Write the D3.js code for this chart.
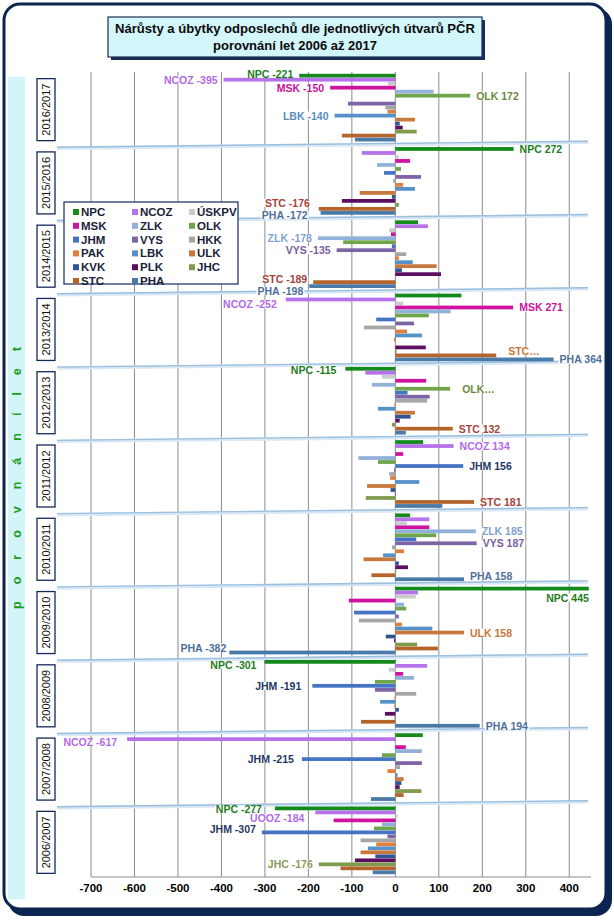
<!DOCTYPE html>
<html>
<head>
<meta charset="utf-8">
<script src="https://cdn.jsdelivr.net/npm/d3@7"></script>
<style>
  body { margin: 0; background: #fff; }
  svg { display: block; }
  text { font-family: "Liberation Sans", Arial, sans-serif; }
</style>
</head>
<body>
<svg id="chart" width="614" height="920" viewBox="0 0 614 920"></svg>
<script>
// categories (top to bottom) and series (order inside each group)
const periods = ["2016/2017", "2015/2016", "2014/2015", "2013/2014", "2012/2013", "2011/2012",
                 "2010/2011", "2009/2010", "2008/2009", "2007/2008", "2006/2007"];
const series = ["NPC", "NCOZ", "ÚSKPV", "MSK", "ZLK", "OLK", "JHM", "VYS", "HKK",
                "PAK", "LBK", "ULK", "KVK", "PLK", "JHC", "STC", "PHA"];

// values, one array per period, in series order
const v2016_2017 = [-221, -395, -17, -150, 88, 172, 0, -109, -23, -18, -140, 45, 10, 17, 49, -123, -93];
const v2015_2016 = [272, -77, 8, 34, -42, 13, -26, 59, -5, 18, 45, -82, -8, -123, 8, -176, -172];
const v2014_2015 = [52, 75, -14, -10, -178, -120, -8, -135, 25, 8, 40, 95, 15, 105, 0, -189, -198];
const v2013_2014 = [152, -252, 18, 271, 127, 77, -44, 43, -72, 27, 61, -3, 0, 70, 3, 232, 364];
const v2012_2013 = [-115, -69, -31, 71, -54, 126, 28, 79, 73, -2, -40, 45, 35, 10, -8, 132, 24];
const v2011_2012 = [64, 134, 0, 18, -85, -40, 156, -3, -14, -12, 55, -65, -11, -1, -68, 181, 108];
const v2010_2011 = [34, 78, 27, 78, 185, 94, 48, 187, -8, 20, -28, -73, 8, 29, 2, -55, 158];
const v2009_2010 = [445, 52, 47, -107, 20, 25, -95, 8, -84, 15, 85, 158, -22, -3, 50, 98, -382];
const v2008_2009 = [-301, 73, -15, 18, 43, -47, -191, -47, 48, -2, -35, -2, 8, -24, -2, -79, 194];
const v2007_2008 = [63, -617, 2, 24, 61, -31, -215, 61, 11, -18, 5, 19, 14, 10, 60, 19, -56];
const v2006_2007 = [-277, -184, 5, -142, -31, -49, -307, -18, -80, -44, -63, -80, -46, -93, -176, -126, -52];
const values = [v2016_2017, v2015_2016, v2014_2015, v2013_2014, v2012_2013, v2011_2012,
                v2010_2011, v2009_2010, v2008_2009, v2007_2008, v2006_2007];

const tickValues = [-700, -600, -500, -400, -300, -200, -100, 0, 100, 200, 300, 400];

// which bars carry a data label (period, series, optional text)
const labelled = [
  ["2016/2017", "NPC"], ["2016/2017", "NCOZ"], ["2016/2017", "MSK"], ["2016/2017", "OLK"], ["2016/2017", "LBK"],
  ["2015/2016", "NPC"], ["2015/2016", "STC"], ["2015/2016", "PHA"],
  ["2014/2015", "ZLK"], ["2014/2015", "VYS"], ["2014/2015", "STC"], ["2014/2015", "PHA"],
  ["2013/2014", "NCOZ"], ["2013/2014", "MSK"], ["2013/2014", "STC", "STC…"], ["2013/2014", "PHA"],
  ["2012/2013", "NPC"], ["2012/2013", "OLK", "OLK…"], ["2012/2013", "STC"],
  ["2011/2012", "NCOZ"], ["2011/2012", "JHM"], ["2011/2012", "STC"],
  ["2010/2011", "ZLK"], ["2010/2011", "VYS"], ["2010/2011", "PHA"],
  ["2009/2010", "NPC"], ["2009/2010", "ULK"], ["2009/2010", "PHA"],
  ["2008/2009", "NPC"], ["2008/2009", "JHM"], ["2008/2009", "PHA"],
  ["2007/2008", "NCOZ"], ["2007/2008", "JHM"],
  ["2006/2007", "NPC"], ["2006/2007", "NCOZ", "ÚOOZ -184"], ["2006/2007", "JHM"], ["2006/2007", "JHC"]
];

// styling
const color = d3.scaleOrdinal().domain(series).range([
  "#138a1c", "#b572ea", "#cbcbcb", "#cf129f", "#91b1d9", "#6fa54c", "#4674c4", "#7d64a5", "#a6a6a6",
  "#e37f3c", "#5692c8", "#c9783b", "#2f5597", "#5c0f60", "#7f9b4d", "#b5652c", "#4a7aa8"]);
const labelColor = {
  NPC: "#1d7d1d", NCOZ: "#b36ae6", MSK: "#cc1199", OLK: "#6b8a3c", LBK: "#5b8dc0", STC: "#a4433a",
  PHA: "#4e6f98", ZLK: "#7f9fce", VYS: "#7a5ea0", JHM: "#1f3864", ULK: "#c8773a", JHC: "#8a9a58"
};
// small label nudges, keyed period|series
const nudge = {
  "2016/2017|NPC": {dy: -2},
  "2015/2016|STC": {dy: -6, dx: -3}, "2015/2016|PHA": {dy: 2, dx: -7},
  "2014/2015|STC": {dy: -3}, "2014/2015|PHA": {dy: 5},
  "2013/2014|NCOZ": {dy: 5, dx: -3}, "2013/2014|STC": {dy: -4, dx: 6, color: "#c8773a"},
  "2012/2013|NPC": {dy: 1, dx: -3}, "2012/2013|OLK": {dx: 6},
  "2010/2011|PHA": {dy: -3},
  "2009/2010|NPC": {dy: 9, inside: true}, "2009/2010|PHA": {dy: -5, dx: 3},
  "2008/2009|NPC": {dy: 3, dx: -2}, "2008/2009|JHM": {dx: -5},
  "2007/2008|NCOZ": {dy: 3, dx: -4}, "2007/2008|JHM": {dx: -2},
  "2006/2007|NPC": {dy: 1, dx: -7}, "2006/2007|NCOZ": {dy: 6, dx: -5}, "2006/2007|JHM": {dy: -3}
};

const svg = d3.select("#chart");

// outer frame with shadow
svg.append("rect").attr("x", 8).attr("y", 8).attr("width", 604).attr("height", 908)
  .attr("rx", 16).attr("fill", "#0c2450");
svg.append("rect").attr("x", 4).attr("y", 4).attr("width", 602).attr("height", 905)
  .attr("rx", 16).attr("fill", "#fff").attr("stroke", "#0c2450").attr("stroke-width", 3);

// title
svg.append("rect").attr("x", 111).attr("y", 20).attr("width", 374).attr("height", 40).attr("fill", "#1b2d55");
svg.append("rect").attr("x", 108).attr("y", 17).attr("width", 374).attr("height", 40)
  .attr("fill", "#d3f6fb").attr("stroke", "#1b2d55").attr("stroke-width", 1.2);
svg.append("text").attr("x", 295).attr("y", 33).attr("text-anchor", "middle")
  .attr("font-size", 13).attr("font-weight", "bold").attr("fill", "#0a0a0a")
  .attr("textLength", 360).attr("lengthAdjust", "spacingAndGlyphs")
  .text("Nárůsty a úbytky odposlechů dle jednotlivých útvarů PČR");
svg.append("text").attr("x", 295).attr("y", 50).attr("text-anchor", "middle")
  .attr("font-size", 13).attr("font-weight", "bold").attr("fill", "#0a0a0a")
  .attr("textLength", 164).attr("lengthAdjust", "spacingAndGlyphs")
  .text("porovnání let 2006 až 2017");

// scales
const x = d3.scaleLinear().domain([-700, 450]).range([91, 591]);
const y0 = d3.scaleBand().domain(periods).range([71, 877]).paddingInner(0.07).paddingOuter(0.035);
const y1 = d3.scaleBand().domain(series).range([0, y0.bandwidth()]).padding(0.06);
const stepPad = y0.step() * y0.paddingInner() / 2;

// left band with rotated caption
svg.append("rect").attr("x", 8).attr("y", 77).attr("width", 17).attr("height", 822).attr("fill", "#d2f5fa");
svg.append("text").attr("transform", "translate(21,478) rotate(-90)").attr("text-anchor", "middle")
  .attr("font-size", 12.5).attr("font-weight", "bold").attr("fill", "#1c9c1c")
  .attr("textLength", 262).attr("lengthAdjust", "spacing")
  .text("p o r o v n á n í   l e t");

// period boxes
const catG = svg.append("g").selectAll("g").data(periods).join("g")
  .attr("transform", d => `translate(46,${y0(d) + y0.bandwidth() / 2 + 2})`);
catG.append("rect").attr("x", -9).attr("y", -31).attr("width", 18).attr("height", 62)
  .attr("fill", "#fff").attr("stroke", "#14285a").attr("stroke-width", 1.3);
catG.append("text").attr("transform", "rotate(-90)").attr("text-anchor", "middle").attr("dy", 4)
  .attr("font-size", 11).attr("fill", "#111").text(d => d);

// vertical gridlines
svg.append("g").selectAll("line").data(tickValues).join("line")
  .attr("x1", d => x(d)).attr("x2", d => x(d)).attr("y1", 72).attr("y2", 877)
  .attr("stroke", "#8c8c8c").attr("stroke-width", 1);

// slanted group separators
const seps = periods.slice(1).map(p => y0(p) - stepPad);
const sepG = svg.append("g");
sepG.selectAll(".glow").data(seps).join("line").attr("class", "glow")
  .attr("x1", 57).attr("y1", d => d + 4).attr("x2", 588).attr("y2", d => d - 2)
  .attr("stroke", "#d9e8f4").attr("stroke-width", 3.5);
sepG.selectAll(".sep").data(seps).join("line").attr("class", "sep")
  .attr("x1", 57).attr("y1", d => d + 3).attr("x2", 588).attr("y2", d => d - 3)
  .attr("stroke", "#9bbfdd").attr("stroke-width", 1.4);

// bars
const rows = [];
periods.forEach((p, i) => series.forEach((s, j) => rows.push({p, s, v: values[i][j]})));
svg.append("g").selectAll("rect").data(rows).join("rect")
  .attr("x", d => x(Math.min(0, d.v)))
  .attr("width", d => Math.abs(x(d.v) - x(0)))
  .attr("y", d => y0(d.p) + y1(d.s))
  .attr("height", y1.bandwidth())
  .attr("fill", d => color(d.s));

// axis
svg.append("line").attr("x1", 91).attr("x2", 591).attr("y1", 877).attr("y2", 877)
  .attr("stroke", "#8c8c8c");
svg.append("g").selectAll("text").data(tickValues).join("text")
  .attr("x", d => x(d)).attr("y", 892).attr("text-anchor", "middle")
  .attr("font-size", 11.5).attr("font-weight", "bold").attr("fill", "#000")
  .text(d => d);

// data labels
const labG = svg.append("g");
labelled.forEach(([p, s, txt]) => {
  const v = values[periods.indexOf(p)][series.indexOf(s)];
  const n = nudge[p + "|" + s] || {};
  const yy = y0(p) + y1(s) + y1.bandwidth() / 2 + 4 + (n.dy || 0);
  let xx, anchor;
  if (n.inside) { xx = x(v) + (n.dx || 0); anchor = "end"; }
  else if (v >= 0) { xx = x(v) + 6 + (n.dx || 0); anchor = "start"; }
  else { xx = x(v) - 6 + (n.dx || 0); anchor = "end"; }
  const g = labG.append("g");
  const t = g.append("text").attr("x", xx).attr("y", yy).attr("text-anchor", anchor)
    .attr("font-size", 10.5).attr("font-weight", "bold")
    .attr("fill", n.color || labelColor[s] || color(s))
    .text(txt || `${s} ${v}`);
  const b = t.node().getBBox();
  g.insert("rect", "text").attr("x", b.x - 1).attr("y", b.y + 2).attr("width", b.width + 2)
    .attr("height", b.height - 4).attr("fill", "#fff");
});

// legend
const leg = svg.append("g").attr("transform", "translate(64,202)");
leg.append("rect").attr("width", 174).attr("height", 82).attr("fill", "#fff")
  .attr("stroke", "#14285a").attr("stroke-width", 1.2);
const colX = [9, 68, 125];
const item = leg.selectAll(".item").data(series).join("g").attr("class", "item")
  .attr("transform", (d, i) => `translate(${colX[i % 3]},${7 + Math.floor(i / 3) * 13.8})`);
item.append("rect").attr("x", 0).attr("y", 0).attr("width", 6).attr("height", 6).attr("fill", d => color(d));
item.append("text").attr("x", 8).attr("y", 7).attr("font-size", 11.5).attr("font-weight", "bold")
  .attr("fill", "#1a1f3a").text(d => d);
</script>
</body>
</html>
